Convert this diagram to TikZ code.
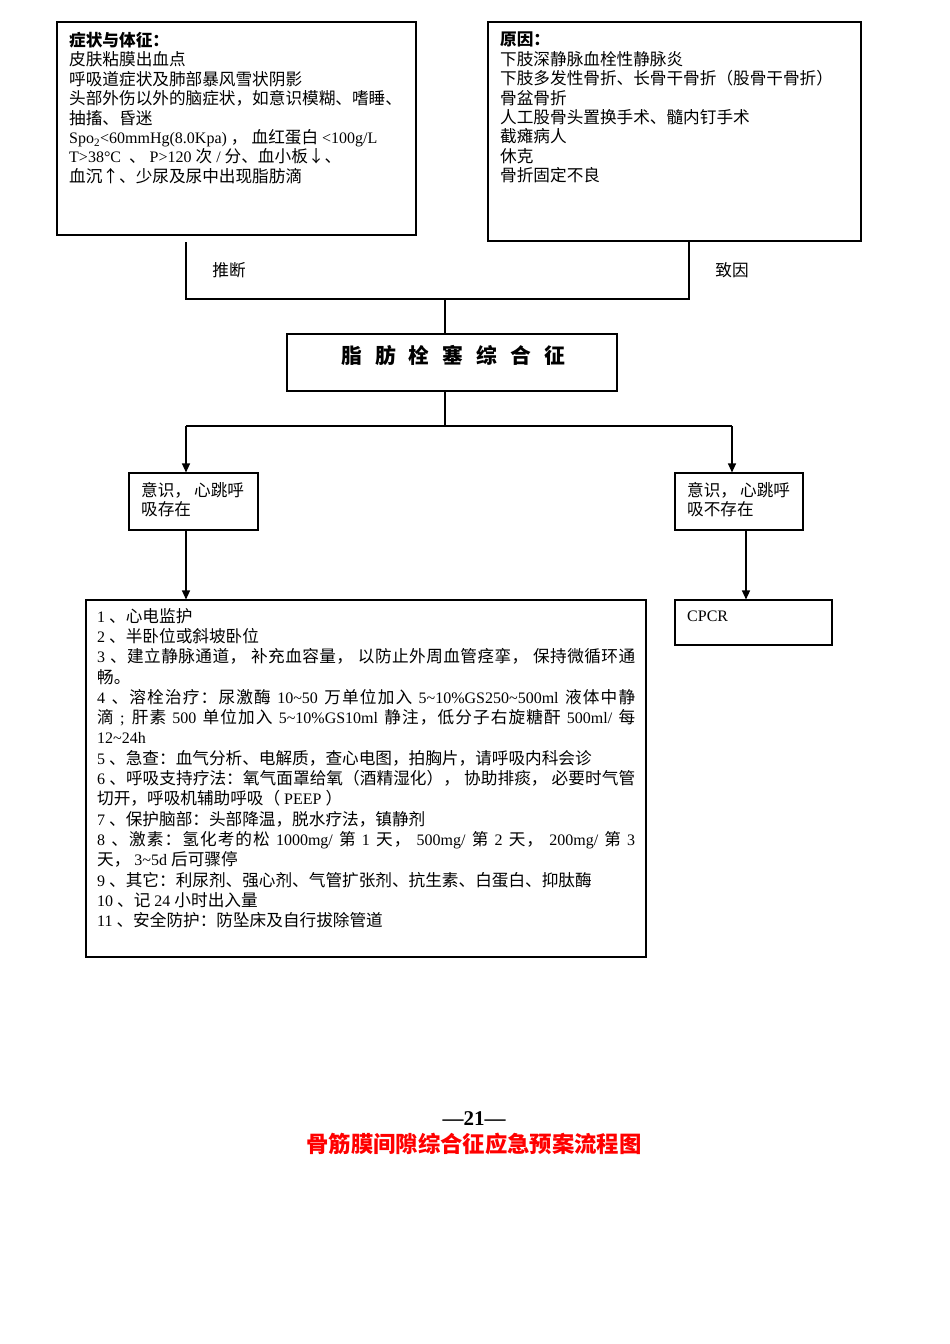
\documentclass[tikz,border=0pt]{standalone}
\usepackage{fontspec}
\setmainfont{Liberation Serif}
\newfontfamily\cjk[Scale=1.04]{Noto Sans CJK SC}
\usetikzlibrary{arrows.meta}
\XeTeXinterchartokenstate=1
\newXeTeXintercharclass\cjkcls
\count255="3000 \loop \XeTeXcharclass\count255=\cjkcls \ifnum\count255<"303F \advance\count255 1 \repeat
\count255="4E00 \loop \XeTeXcharclass\count255=\cjkcls \ifnum\count255<"9FFF \advance\count255 1 \repeat
\count255="FF00 \loop \XeTeXcharclass\count255=\cjkcls \ifnum\count255<"FFEF \advance\count255 1 \repeat
\XeTeXcharclass"2191=\cjkcls
\XeTeXcharclass"2193=\cjkcls
\XeTeXinterchartoks 0 \cjkcls = {\cjk}
\XeTeXinterchartoks 4095 \cjkcls = {\cjk}
\XeTeXinterchartoks \cjkcls 0 = {\rmfamily}
\XeTeXinterchartoks \cjkcls 4095 = {\rmfamily}
\XeTeXinterchartoks \cjkcls \cjkcls = {\hskip 0pt plus 1pt\relax}
\newcommand\tld{\textasciitilde{}}
\newcommand\jline[1]{\makebox[538pt][s]{#1}}
\begin{document}
\begin{tikzpicture}[x=1pt,y=-1pt,
  box/.style={draw, line width=1.1pt, inner sep=0pt, rectangle},
  txt/.style={anchor=north west, inner sep=0pt, align=left, font=\fontsize{16}{19.4}\selectfont},
  bigtxt/.style={anchor=north west, inner sep=0pt, align=left, font=\fontsize{16}{20.3}\selectfont},
  lbl/.style={inner sep=0pt, font=\fontsize{16}{19}\selectfont},
  conn/.style={line width=1.1pt},
  arr/.style={line width=1.1pt, -{Triangle[length=9pt,width=8pt]}}]
\useasboundingbox (0,0) rectangle (950,1344);
\fill[white] (0,0) rectangle (950,1344);

% boxes
\node[box, minimum width=359pt, minimum height=213pt] (sym) at (236.5,128.5) {};
\node[box, minimum width=373pt, minimum height=219pt] (cause) at (674.5,131.5) {};
\node[box, minimum width=330pt, minimum height=57pt] (fes) at (452,362.5) {};
\node[box, minimum width=129pt, minimum height=57pt] (yes) at (193.5,501.5) {};
\node[box, minimum width=128pt, minimum height=57pt] (no) at (739,501.5) {};
\node[box, minimum width=560pt, minimum height=357pt] (treat) at (366,778.5) {};
\node[box, minimum width=157pt, minimum height=45pt] (cpcr) at (753.5,622.5) {};

% texts
\node[txt] (symtxt) at (69,32) {{\bfseries 症状与体征：}\\
皮肤粘膜出血点\\
呼吸道症状及肺部暴风雪状阴影\\
头部外伤以外的脑症状，如意识模糊、嗜睡、\\
抽搐、昏迷\\
Spo\textsubscript{2}<60mmHg(8.0Kpa) ， 血红蛋白 <100g/L\\
T>38°C \ 、\ P>120 次 / 分、血小板↓、\\
血沉↑、少尿及尿中出现脂肪滴};

\node[txt] (causetxt) at (500,32) {{\bfseries 原因：}\\
下肢深静脉血栓性静脉炎\\
下肢多发性骨折、长骨干骨折（股骨干骨折）\\
骨盆骨折\\
人工股骨头置换手术、髓内钉手术\\
截瘫病人\\
休克\\
骨折固定不良};

\node[lbl] (tuiduan) at (229,270) {推断};
\node[lbl] (zhiyin) at (732,270) {致因};

\node[inner sep=0pt, font=\fontsize{20}{24}\selectfont\bfseries] (festxt) at (453,355)
  {脂\hspace{13pt}肪\hspace{13pt}栓\hspace{13pt}塞\hspace{13pt}综\hspace{13pt}合\hspace{13pt}征};

\node[txt] (yestxt) at (141,482) {意识，\hspace{3pt}心跳呼\\吸存在};
\node[txt] (notxt) at (687,482) {意识，\hspace{3pt}心跳呼\\吸不存在};

\node[anchor=base west, inner sep=0pt, font=\fontsize{16}{19}\selectfont] (cpcrtxt) at (687,621) {CPCR};

\node[bigtxt] (treattxt) at (97,608) {1 、心电监护\\
2 、半卧位或斜坡卧位\\
\jline{3 、建立静脉通道， 补充血容量， 以防止外周血管痉挛， 保持微循环通}\\
畅。\\
\jline{4 、溶栓治疗：尿激酶 10\tld 50 万单位加入 5\tld 10\%GS250\tld 500ml 液体中静}\\
\jline{滴 ; 肝素 500 单位加入 5\tld 10\%GS10ml 静注，低分子右旋糖酐 500ml/ 每}\\
12\tld 24h\\
5 、急查：血气分析、电解质，查心电图，拍胸片，请呼吸内科会诊\\
\jline{6 、呼吸支持疗法：氧气面罩给氧（酒精湿化）， 协助排痰， 必要时气管}\\
切开，呼吸机辅助呼吸（ PEEP ）\\
7 、保护脑部：头部降温，脱水疗法，镇静剂\\
\jline{8 、激素：氢化考的松 1000mg/ 第 1 天， 500mg/ 第 2 天， 200mg/ 第 3}\\
天， 3\tld 5d 后可骤停\\
9 、其它：利尿剂、强心剂、气管扩张剂、抗生素、白蛋白、抑肽酶\\
10 、记 24 小时出入量\\
11 、安全防护：防坠床及自行拔除管道};

\node[inner sep=0pt, font=\fontsize{21}{24}\selectfont\bfseries] (pageno) at (474,1119) {—21—};
\node[inner sep=0pt, text=red, font=\fontsize{21.5}{26}\selectfont\bfseries] (title) at (474,1144) {骨筋膜间隙综合征应急预案流程图};

% connectors
\coordinate (a1) at (186,242);
\coordinate (a2) at (689,242);
\coordinate (jl) at (186,299);
\coordinate (jr) at (689,299);
\coordinate (jm) at (445,299);
\coordinate (sm) at (445,426);
\coordinate (sl) at (186,426);
\coordinate (sr) at (732,426);
\coordinate (cx) at (746,530);

\draw[conn] (a1) -- (jl) -- (jr) -- (a2);
\draw[conn] (jm) -- (jm |- fes.north);
\draw[conn] (jm |- fes.south) -- (sm);
\draw[conn] (sl) -- (sr);
\draw[arr] (sl) -- (sl |- yes.north);
\draw[arr] (sr) -- (sr |- no.north);
\draw[arr] (sl |- yes.south) -- (sl |- treat.north);
\draw[arr] (cx |- no.south) -- (cx |- cpcr.north);
\end{tikzpicture}
\end{document}
